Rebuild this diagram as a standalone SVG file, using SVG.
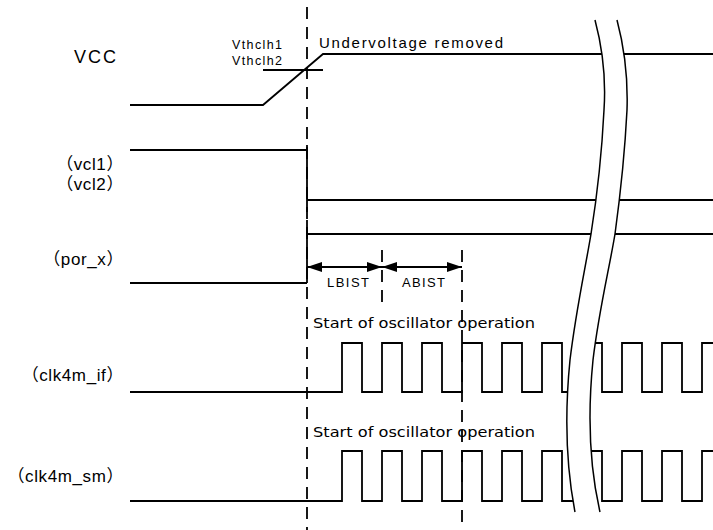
<svg xmlns="http://www.w3.org/2000/svg" width="713" height="530" viewBox="0 0 713 530">
<style>
.w{fill:none;stroke:#000;stroke-width:1.8}
.d{fill:none;stroke:#000;stroke-width:1.8;stroke-dasharray:12 8}
.c{fill:none;stroke:#000;stroke-width:1.5}
.lbl{font-family:"Liberation Sans",Arial,"Noto Sans CJK JP",sans-serif;font-size:17px;letter-spacing:0.6px;fill:#000;text-anchor:end}
.sm{font-family:"Liberation Sans",Arial,sans-serif;fill:#000}
.osc{font-family:"DejaVu Sans",sans-serif;font-size:13.5px;fill:#000}
</style>
<defs>
<marker id="ah" viewBox="0 0 15 10" refX="15" refY="5" markerWidth="15" markerHeight="10" markerUnits="userSpaceOnUse" orient="auto-start-reverse"><path d="M0,0 L15,5 L0,10 Z" fill="#000"/></marker>
</defs>
<rect width="713" height="530" fill="#fff"/>
<g id="labels">
<text class="sm" x="74" y="63" font-size="18" letter-spacing="2">VCC</text>
<text class="lbl" x="124" y="170">（vcl1）</text>
<text class="lbl" x="124" y="190">（vcl2）</text>
<text class="lbl" x="124" y="265">（por_x）</text>
<text class="lbl" x="124" y="381">（clk4m_if）</text>
<text class="lbl" x="124" y="482">（clk4m_sm）</text>
</g>
<g id="vcc">
<path class="w" d="M130,105 H263 L323,54 H713"/>
<path class="w" d="M263,70 H323"/>
<text class="sm" x="232" y="49" font-size="12.5" textLength="50" lengthAdjust="spacing">Vthclh1</text>
<text class="sm" x="232" y="65" font-size="12.5" textLength="50" lengthAdjust="spacing">Vthclh2</text>
<text class="sm" x="319" y="48" font-size="15" textLength="184" lengthAdjust="spacing">Undervoltage removed</text>
</g>
<g id="vcl">
<path class="w" d="M130,150 H307"/>
<path class="w" d="M307,145 V212"/>
<path class="w" d="M307,200 H713"/>
</g>
<g id="por_x">
<path class="w" d="M130,283 H307"/>
<path class="w" d="M307,220 V283"/>
<path class="w" d="M307,234 H713"/>
</g>
<g id="clk4m_if">
<path class="w" d="M130,392 H342 V343 H362 V392 H382 V343 H402 V392 H422 V343 H442 V392 H462 V343 H482 V392 H502 V343 H522 V392 H542 V343 H562 V392 H582 V343 H602 V392 H622 V343 H642 V392 H662 V343 H682 V392 H702 V343 H713"/>
<text class="osc" x="313" y="328" textLength="222" lengthAdjust="spacingAndGlyphs">Start of oscillator operation</text>
</g>
<g id="clk4m_sm">
<path class="w" d="M130,501 H342 V451 H362 V501 H382 V451 H402 V501 H422 V451 H442 V501 H462 V451 H482 V501 H502 V451 H522 V501 H542 V451 H562 V501 H582 V451 H602 V501 H622 V451 H642 V501 H662 V451 H682 V501 H702 V451 H713"/>
<text class="osc" x="313" y="437" textLength="222" lengthAdjust="spacingAndGlyphs">Start of oscillator operation</text>
</g>
<g id="break">
<path fill="#fff" stroke="none" d="M595,20 C603,50 606,80 604,110 C602,150 598,190 591,234 C585,270 576,310 570,360 C565,410 565,460 575,512 L600,512 C588,460 588,410 593,360 C599,310 609,270 615,234 C621,190 625,150 627,110 C628,80 625,50 617,20 Z"/>
<path class="c" d="M595,20 C603,50 606,80 604,110 C602,150 598,190 591,234 C585,270 576,310 570,360 C565,410 565,460 575,512"/>
<path class="c" d="M617,20 C625,50 628,80 627,110 C625,150 621,190 615,234 C609,270 599,310 593,360 C588,410 588,460 600,512"/>
</g>
<g id="connectors">
<path class="d" d="M307,7 V530"/>
<path class="d" d="M382,250 V302"/>
<path class="d" d="M462,250 V530"/>
<line class="w" stroke-width="1.5" x1="307" y1="267" x2="382" y2="267" marker-start="url(#ah)" marker-end="url(#ah)"/>
<line class="w" stroke-width="1.5" x1="382" y1="267" x2="462" y2="267" marker-start="url(#ah)" marker-end="url(#ah)"/>
</g>
<g id="bist">
<text class="sm" x="327" y="287" font-size="13" textLength="42" lengthAdjust="spacing">LBIST</text>
<text class="sm" x="402" y="287" font-size="13" textLength="43" lengthAdjust="spacing">ABIST</text>
</g>
</svg>
